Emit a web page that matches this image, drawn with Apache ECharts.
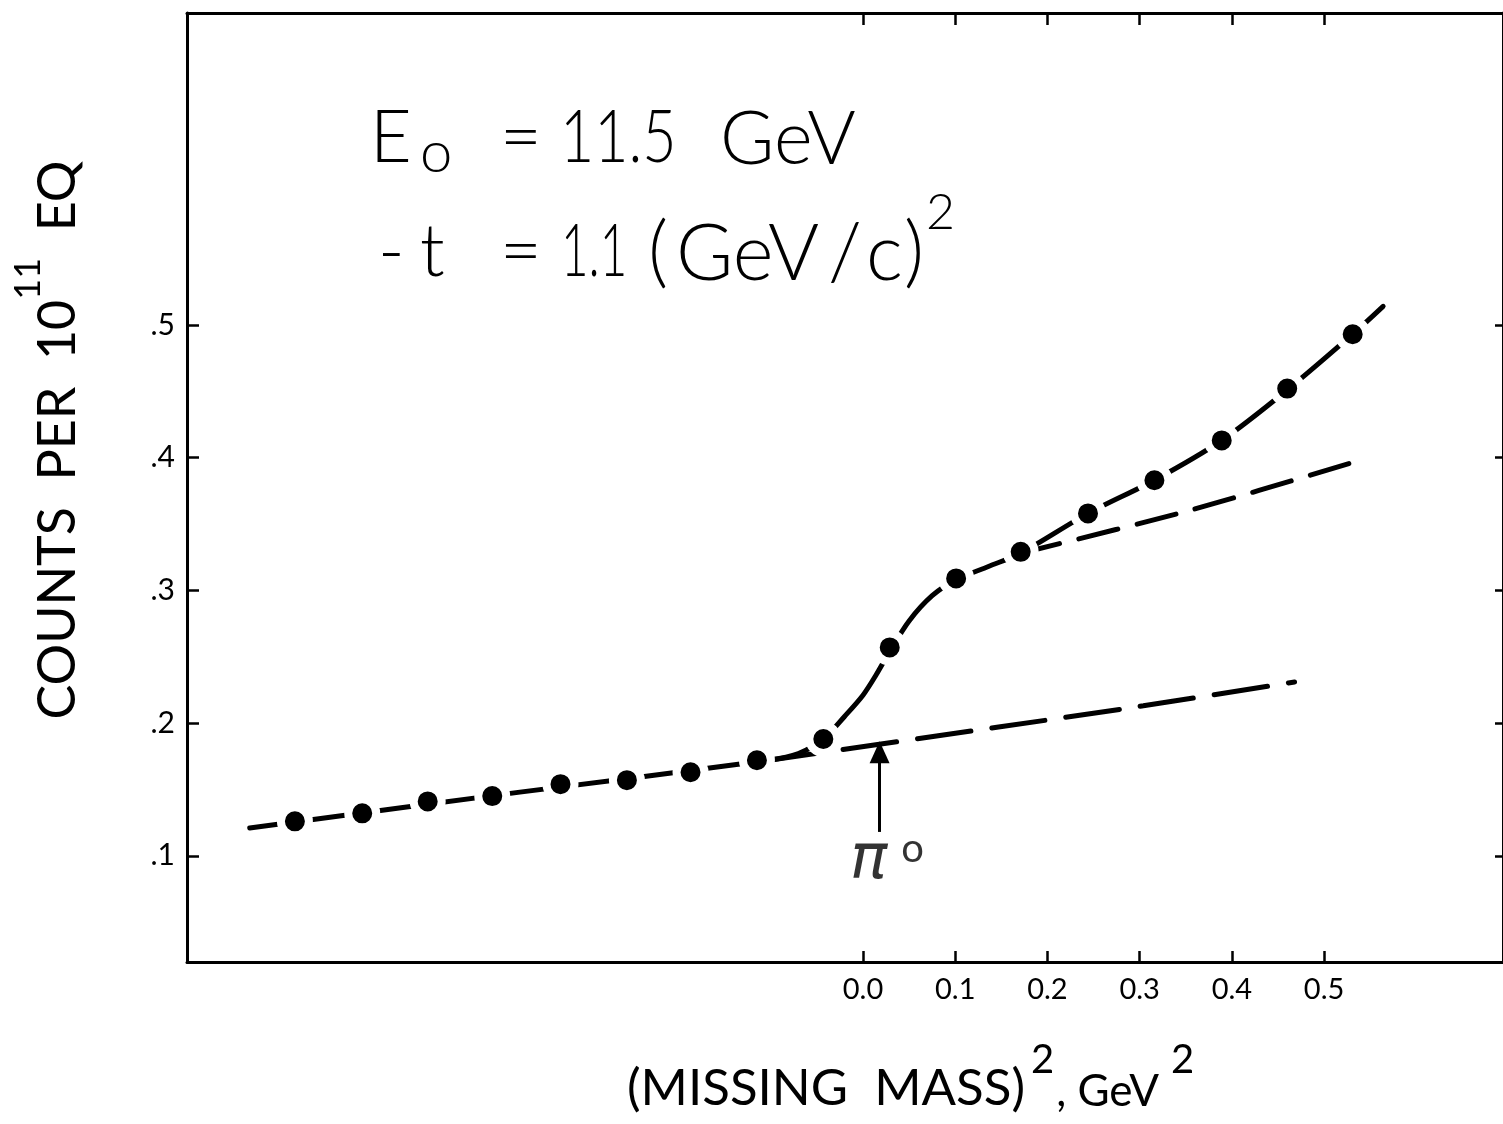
<!DOCTYPE html>
<html>
<head>
<meta charset="utf-8">
<script src="https://cdn.jsdelivr.net/npm/echarts@6/dist/echarts.min.js"></script>
<style>
  html, body { margin: 0; padding: 0; background: #fff; }
  #chart { width: 1503px; height: 1124px; }
</style>
</head>
<body>
<div id="chart"></div>
<script>
// Measured yield versus missing-mass squared (GeV^2)
const massSq = [-0.616, -0.543, -0.472, -0.402, -0.328, -0.256, -0.187, -0.115, -0.043,
                0.029, 0.101, 0.171, 0.244, 0.316, 0.389, 0.460, 0.531];
const counts = [0.126, 0.132, 0.141, 0.145, 0.154, 0.157, 0.163, 0.172, 0.188,
                0.257, 0.309, 0.329, 0.358, 0.383, 0.413, 0.452, 0.493];

// Smooth curve drawn through the data (pi0 step included)
const fitX = [-0.665, -0.372, -0.102, -0.070, -0.043, -0.020, 0.000, 0.014, 0.029,
              0.050, 0.075, 0.101, 0.136, 0.171, 0.244, 0.316, 0.389, 0.460, 0.531, 0.564];
const fitY = [0.121, 0.148, 0.172, 0.177, 0.188, 0.205, 0.221, 0.236, 0.254,
              0.277, 0.296, 0.308, 0.318, 0.328, 0.358, 0.383, 0.413, 0.451, 0.493, 0.514];

// Background continued under the pi0 step
const lowBgX = [-0.102, 0.147, 0.304, 0.468];
const lowBgY = [0.172, 0.197, 0.213, 0.231];

// Background continued above the step
const highBgX = [0.171, 0.353, 0.529];
const highBgY = [0.328, 0.360, 0.396];

// Axis ticks
const xTicks = [0.0, 0.1, 0.2, 0.3, 0.4, 0.5];
const yTicks = [0.1, 0.2, 0.3, 0.4, 0.5];

// pi0 position marker
const pi0ArrowX = 0.018;
const pi0ArrowY = [0.118, 0.178];
const pi0LabelAt = [0.026, 0.096];

const X_MIN = -0.733, X_MAX = 0.694;
const Y_MIN = 0.020, Y_MAX = 0.735;

const zip = (xs, ys) => xs.map((x, i) => [x, ys[i]]);
const FONT = 'Lato, "DejaVu Sans", sans-serif';
const INK = '#000';

const chart = echarts.init(document.getElementById('chart'), null, { renderer: 'canvas' });

const axisLine = { show: true, onZero: false, lineStyle: { color: INK, width: 3 } };
const tickStyle = { color: INK, width: 2.5 };

// Annotation text pieces placed one by one so the hand-lettered spacing is kept
const big = size => '300 ' + size + 'px ' + FONT;
const piece = (text, x, y, size, sx) => ({
  type: 'text', x, y, scaleX: sx || 1, silent: true,
  style: { text, font: big(size), fill: INK, align: 'left', verticalAlign: 'top' }
});

const option = {
  animation: false,
  backgroundColor: '#fff',
  grid: { left: 187, top: 13, right: -2, bottom: 162, containLabel: false },
  xAxis: [
    {
      type: 'value', position: 'bottom', min: X_MIN, max: X_MAX,
      axisLine, splitLine: { show: false },
      axisTick: { show: true, inside: true, length: 11, customValues: xTicks, lineStyle: tickStyle },
      axisLabel: {
        show: true, customValues: xTicks, margin: 13, color: INK,
        fontFamily: FONT, fontSize: 29,
        formatter: v => v.toFixed(1)
      }
    },
    {
      type: 'value', position: 'top', min: X_MIN, max: X_MAX,
      axisLine, splitLine: { show: false },
      axisTick: { show: true, inside: true, length: 12, customValues: xTicks, lineStyle: tickStyle },
      axisLabel: { show: false }
    }
  ],
  yAxis: [
    {
      type: 'value', position: 'left', min: Y_MIN, max: Y_MAX,
      axisLine, splitLine: { show: false },
      axisTick: { show: true, inside: true, length: 12, customValues: yTicks, lineStyle: tickStyle },
      axisLabel: {
        show: true, customValues: yTicks, margin: 12, color: INK,
        fontFamily: FONT, fontSize: 30,
        formatter: v => '.' + Math.round(v * 10)
      }
    },
    {
      type: 'value', position: 'right', min: Y_MIN, max: Y_MAX,
      axisLine, splitLine: { show: false },
      axisTick: { show: true, inside: true, length: 8, customValues: yTicks, lineStyle: tickStyle },
      axisLabel: { show: false }
    }
  ],
  series: [
    {
      name: 'background (low)', type: 'line', data: zip(lowBgX, lowBgY),
      showSymbol: false, smooth: 0.3, silent: true, z: 2,
      lineStyle: { color: INK, width: 5, type: [54, 21], cap: 'round' }
    },
    {
      name: 'background (high)', type: 'line', data: zip(highBgX, highBgY),
      showSymbol: false, smooth: 0.3, silent: true, z: 2,
      lineStyle: { color: INK, width: 5, type: [40, 20], cap: 'round' }
    },
    {
      name: 'fit', type: 'line', data: zip(fitX, fitY),
      showSymbol: false, smooth: 0.3, silent: true, z: 3,
      lineStyle: { color: INK, width: 5, cap: 'round' },
      markLine: {
        silent: true, symbol: ['none', 'triangle'], symbolSize: [20, 22],
        label: { show: false },
        lineStyle: { color: INK, width: 3, type: 'solid' },
        data: [[{ coord: [pi0ArrowX, pi0ArrowY[0]] }, { coord: [pi0ArrowX, pi0ArrowY[1]] }]]
      }
    },
    {
      name: 'data', type: 'scatter', data: zip(massSq, counts),
      symbol: 'circle', symbolSize: 28, silent: true, z: 5,
      itemStyle: { color: INK, borderColor: '#fff', borderWidth: 8, opacity: 1 }
    },
    {
      name: 'pi0', type: 'scatter', data: [pi0LabelAt], symbolSize: 0, silent: true, z: 6,
      label: {
        show: true, position: 'inside',
        formatter: '{p|π}{d|o}',
        rich: {
          p: { fontFamily: '"DejaVu Sans", sans-serif', fontStyle: 'italic', fontSize: 62, color: INK,
               lineHeight: 64, verticalAlign: 'bottom' },
          d: { fontFamily: FONT, fontSize: 40, color: INK, lineHeight: 40,
               verticalAlign: 'top', padding: [0, 0, 0, 14] }
        }
      }
    }
  ],
  graphic: [
    // Beam energy line
    piece('E', 370, 103, 72),
    piece('o', 420, 124, 58),
    piece('=', 500, 103, 72),
    piece('11.5', 560, 103, 72, 0.82),
    piece('GeV', 720, 103, 74),
    // Momentum transfer line
    piece('-', 378, 217, 72),
    piece('t', 420, 217, 72),
    piece('=', 500, 217, 72),
    piece('1.1', 561, 217, 72, 0.66),
    piece('(', 648, 214, 78),
    piece('GeV', 676, 216, 78),
    piece('/', 828, 216, 78),
    piece('c', 866, 216, 78),
    piece(')', 904, 214, 78),
    piece('2', 926, 188, 50),
    // Y axis title
    {
      type: 'text', x: 47, y: 440, rotation: Math.PI / 2, silent: true,
      style: {
        text: '{a|COUNTS  PER  10}{s|11}{a|  EQ}',
        align: 'center', verticalAlign: 'middle',
        rich: {
          a: { font: '52px ' + FONT, fill: INK, lineHeight: 74, verticalAlign: 'bottom' },
          s: { font: '36px ' + FONT, fill: INK, lineHeight: 36, verticalAlign: 'top' }
        }
      }
    },
    // X axis title
    {
      type: 'text', x: 627, y: 1077, silent: true,
      style: {
        text: '{a|(MISSING  MASS)}{s|2}{b|, GeV}{t|2}',
        align: 'left', verticalAlign: 'middle',
        rich: {
          a: { font: '51px ' + FONT, fill: INK, lineHeight: 74, verticalAlign: 'bottom' },
          b: { font: '44px ' + FONT, fill: INK, lineHeight: 74, verticalAlign: 'bottom', padding: [0, 0, 0, 2] },
          s: { font: '40px ' + FONT, fill: INK, lineHeight: 40, verticalAlign: 'top', padding: [0, 0, 0, 6] },
          t: { font: '40px ' + FONT, fill: INK, lineHeight: 40, verticalAlign: 'top', padding: [0, 0, 0, 12] }
        }
      }
    }
  ]
};

chart.setOption(option);
</script>
</body>
</html>
